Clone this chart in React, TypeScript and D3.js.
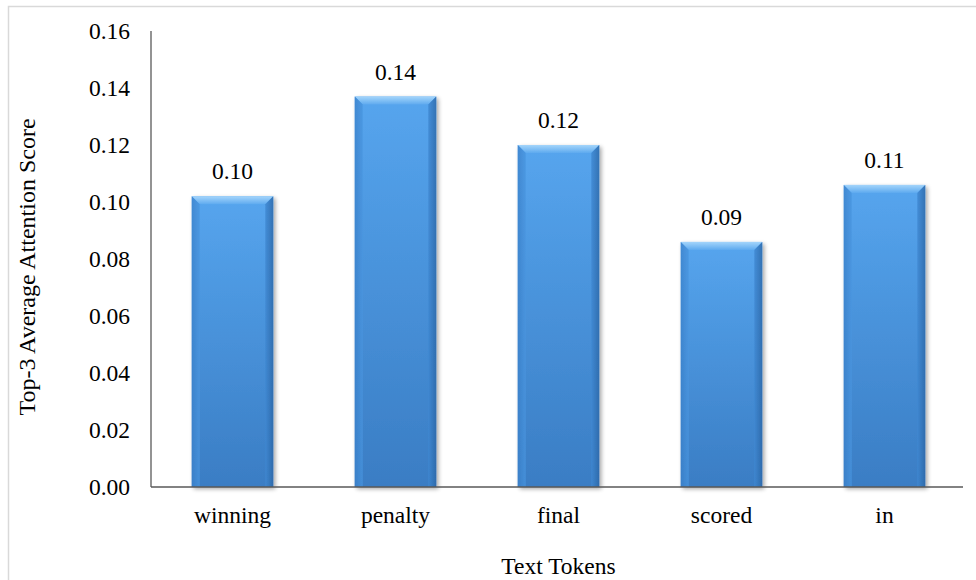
import React from "react";
import * as d3 from "d3";

// Token-level attention scores
const tokens = ["winning", "penalty", "final", "scored", "in"];
const scores = [0.102, 0.137, 0.12, 0.086, 0.106];
const yTicks = [0, 0.02, 0.04, 0.06, 0.08, 0.1, 0.12, 0.14, 0.16];
const yTitle = "Top-3 Average Attention Score";
const xTitle = "Text Tokens";

const W = 976;
const H = 580;
const plot = { left: 151, right: 966, top: 31, bottom: 487 };
const FONT = "'Liberation Serif', 'Times New Roman', serif";
const BEVEL = 8;

export default function App() {
  const x = d3
    .scaleBand<string>()
    .domain(tokens)
    .range([plot.left, plot.right])
    .paddingInner(0.5)
    .paddingOuter(0.25);
  const y = d3.scaleLinear().domain([0, 0.16]).range([plot.bottom, plot.top]);
  const fmt = d3.format(".2f");

  return (
    <svg
      width={W}
      height={H}
      style={{ position: "absolute", left: 0, top: 0, background: "#fff" }}
      fontFamily={FONT}
    >
      <defs>
        <linearGradient id="face" x1="0" y1="0" x2="0" y2="1">
          <stop offset="0" stopColor="#56a5ee" />
          <stop offset="1" stopColor="#3a7dc4" />
        </linearGradient>
        <linearGradient id="topBevel" x1="0" y1="0" x2="0" y2="1">
          <stop offset="0" stopColor="#a4d5fb" />
          <stop offset="1" stopColor="#5eaaef" />
        </linearGradient>
        <linearGradient id="leftBevel" x1="0" y1="0" x2="1" y2="0">
          <stop offset="0" stopColor="#3a80c9" />
          <stop offset="1" stopColor="#4995df" />
        </linearGradient>
        <linearGradient id="rightBevel" x1="0" y1="0" x2="1" y2="0">
          <stop offset="0" stopColor="#3f88d2" />
          <stop offset="1" stopColor="#2b66a6" />
        </linearGradient>
        <filter id="shadow" x="-20%" y="-20%" width="140%" height="140%">
          <feGaussianBlur in="SourceAlpha" stdDeviation="2" />
          <feOffset dx="2" dy="2" result="b" />
          <feComponentTransfer>
            <feFuncA type="linear" slope="0.35" />
          </feComponentTransfer>
          <feMerge>
            <feMergeNode />
            <feMergeNode in="SourceGraphic" />
          </feMerge>
        </filter>
      </defs>

      {/* chart frame */}
      <rect x={8.5} y={6.5} width={1000} height={640} fill="none" stroke="#d9d9d9" strokeWidth={1.5} />

      {/* bars with bevel */}
      {tokens.map((t, i) => {
        const x0 = x(t)!;
        const bw = x.bandwidth();
        const x1 = x0 + bw;
        const y0 = y(scores[i]);
        const y1 = y(0);
        const b = Math.min(BEVEL, (y1 - y0) / 2);
        return (
          <g key={t} filter="url(#shadow)">
            <rect x={x0} y={y0} width={bw} height={y1 - y0} fill="url(#face)" />
            <path
              d={`M${x0},${y0}L${x1},${y0}L${x1 - b},${y0 + b}L${x0 + b},${y0 + b}Z`}
              fill="url(#topBevel)"
            />
            <path
              d={`M${x0},${y0}L${x0 + b},${y0 + b}L${x0 + b},${y1}L${x0},${y1}Z`}
              fill="url(#leftBevel)"
              opacity={0.75}
            />
            <path
              d={`M${x1},${y0}L${x1 - b},${y0 + b}L${x1 - b},${y1}L${x1},${y1}Z`}
              fill="url(#rightBevel)"
              opacity={0.8}
            />
          </g>
        );
      })}

      {/* value labels */}
      {tokens.map((t, i) => (
        <text
          key={t}
          x={x(t)! + x.bandwidth() / 2}
          y={y(scores[i]) - 17}
          textAnchor="middle"
          fontSize={23.5}
          fill="#000"
        >
          {fmt(scores[i])}
        </text>
      ))}

      {/* axes */}
      <line x1={plot.left} x2={plot.left} y1={plot.top} y2={plot.bottom} stroke="#595959" strokeWidth={1.3} />
      <line x1={plot.left} x2={963} y1={plot.bottom} y2={plot.bottom} stroke="#595959" strokeWidth={1.3} />

      {yTicks.map((v) => (
        <text
          key={v}
          x={130}
          y={y(v)}
          dy="0.35em"
          textAnchor="end"
          fontSize={23.5}
          fill="#000"
        >
          {fmt(v)}
        </text>
      ))}

      {tokens.map((t) => (
        <text
          key={t}
          x={x(t)! + x.bandwidth() / 2}
          y={523}
          textAnchor="middle"
          fontSize={23.5}
          fill="#000"
        >
          {t}
        </text>
      ))}

      <text
        transform={`translate(35,267) rotate(-90)`}
        textAnchor="middle"
        fontSize={24}
        fill="#000"
      >
        {yTitle}
      </text>
      <text x={(plot.left + plot.right) / 2} y={574} textAnchor="middle" fontSize={23.5} fill="#000">
        {xTitle}
      </text>
    </svg>
  );
}
